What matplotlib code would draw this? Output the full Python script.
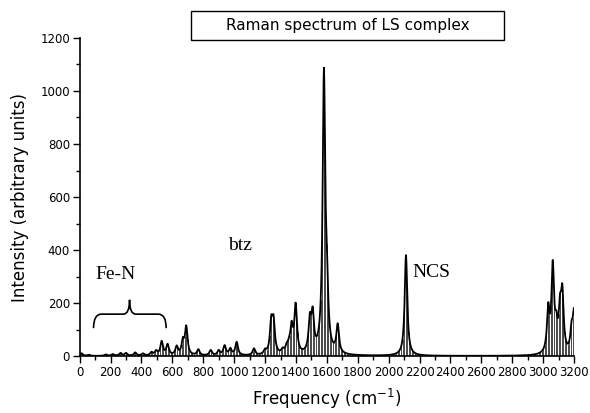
import numpy as np
import matplotlib
matplotlib.use("Agg")
import matplotlib.pyplot as plt
from matplotlib.patches import Rectangle, PathPatch
from matplotlib.path import Path
from matplotlib.ticker import MultipleLocator

# computed Raman bands: position (cm-1) and peak intensity
freqs = [12, 60, 170, 215, 265, 300, 360, 410, 465, 495, 531, 569, 628, 668, 690,
         768, 848, 900, 938, 975, 1016, 1128, 1200, 1240, 1255, 1314, 1340, 1355,
         1372, 1398, 1490, 1508, 1581, 1600, 1670, 2112,
         3033, 3062, 3085, 3109, 3124, 3184, 3200]
heights = [10, 4, 5, 6, 10, 10, 12, 8, 12, 16, 52, 40, 32, 50, 105,
           22, 20, 18, 36, 24, 50, 25, 15, 115, 115, 15, 22, 24,
           95, 180, 115, 135, 1040, 190, 105, 380,
           160, 320, 80, 140, 210, 80, 150]
hwhm = 10.0

# label texts
title = "Raman spectrum of LS complex"
xlabel = "Frequency (cm$^{-1}$)"
ylabel = "Intensity (arbitrary units)"
notes = [("Fe-N", 100, 290), ("btz", 960, 400), ("NCS", 2155, 300)]


def spectrum(x):
    y = np.zeros_like(x, dtype=float)
    for f, h in zip(freqs, heights):
        y += h * hwhm**2 / ((x - f)**2 + hwhm**2)
    return y


fig = plt.figure(figsize=(5.9, 4.13), dpi=100)
ax = fig.add_axes([0.135, 0.138, 0.838, 0.770])

xs = np.arange(0, 3201, 1.0)
ax.plot(xs, spectrum(xs), color="black", lw=1.3, zorder=3)

# drop lines
xd = np.arange(0, 3201, 10.0)
ax.vlines(xd, 0, spectrum(xd), color="black", lw=0.5, zorder=2)

ax.set_xlim(0, 3200)
ax.set_ylim(0, 1200)
ax.xaxis.set_major_locator(MultipleLocator(200))
ax.xaxis.set_minor_locator(MultipleLocator(100))
ax.yaxis.set_major_locator(MultipleLocator(200))
ax.yaxis.set_minor_locator(MultipleLocator(100))
ax.tick_params(which="major", direction="out", length=5, width=1, labelsize=8.5, pad=2)
ax.tick_params(which="minor", direction="out", length=3, width=1)
for side in ["top", "right"]:
    ax.spines[side].set_visible(False)
for side in ["left", "bottom"]:
    ax.spines[side].set_linewidth(1.2)

ax.set_xlabel(xlabel, fontsize=12, labelpad=6)
ax.set_ylabel(ylabel, fontsize=12, labelpad=8)

for txt, x, y in notes:
    ax.text(x, y, txt, fontsize=14, family="Liberation Serif", ha="left", va="baseline")

# curly brace over Fe-N region
x0, x1, xm = 90, 560, 323
yb, yh, yt = 105, 158, 212
verts = [(x0, yb), (x0, yh), (x0 + 50, yh),
         (xm - 40, yh), (xm, yh), (xm, yt),
         (xm, yh), (xm + 40, yh),
         (x1 - 50, yh), (x1, yh), (x1, yb)]
codes = [Path.MOVETO, Path.CURVE3, Path.CURVE3,
         Path.LINETO, Path.CURVE3, Path.CURVE3,
         Path.CURVE3, Path.CURVE3,
         Path.LINETO, Path.CURVE3, Path.CURVE3]
ax.add_patch(PathPatch(Path(verts, codes), fill=False, lw=1.2, ec="black"))

# title box
fig.patches.append(Rectangle((191 / 590, 1 - 40 / 413), 313 / 590, 29 / 413,
                             transform=fig.transFigure, fill=False, lw=1.0, ec="black"))
fig.text(347.5 / 590, 1 - 25.5 / 413, title, fontsize=11, ha="center", va="center")

fig.savefig("out.png", dpi=100)
